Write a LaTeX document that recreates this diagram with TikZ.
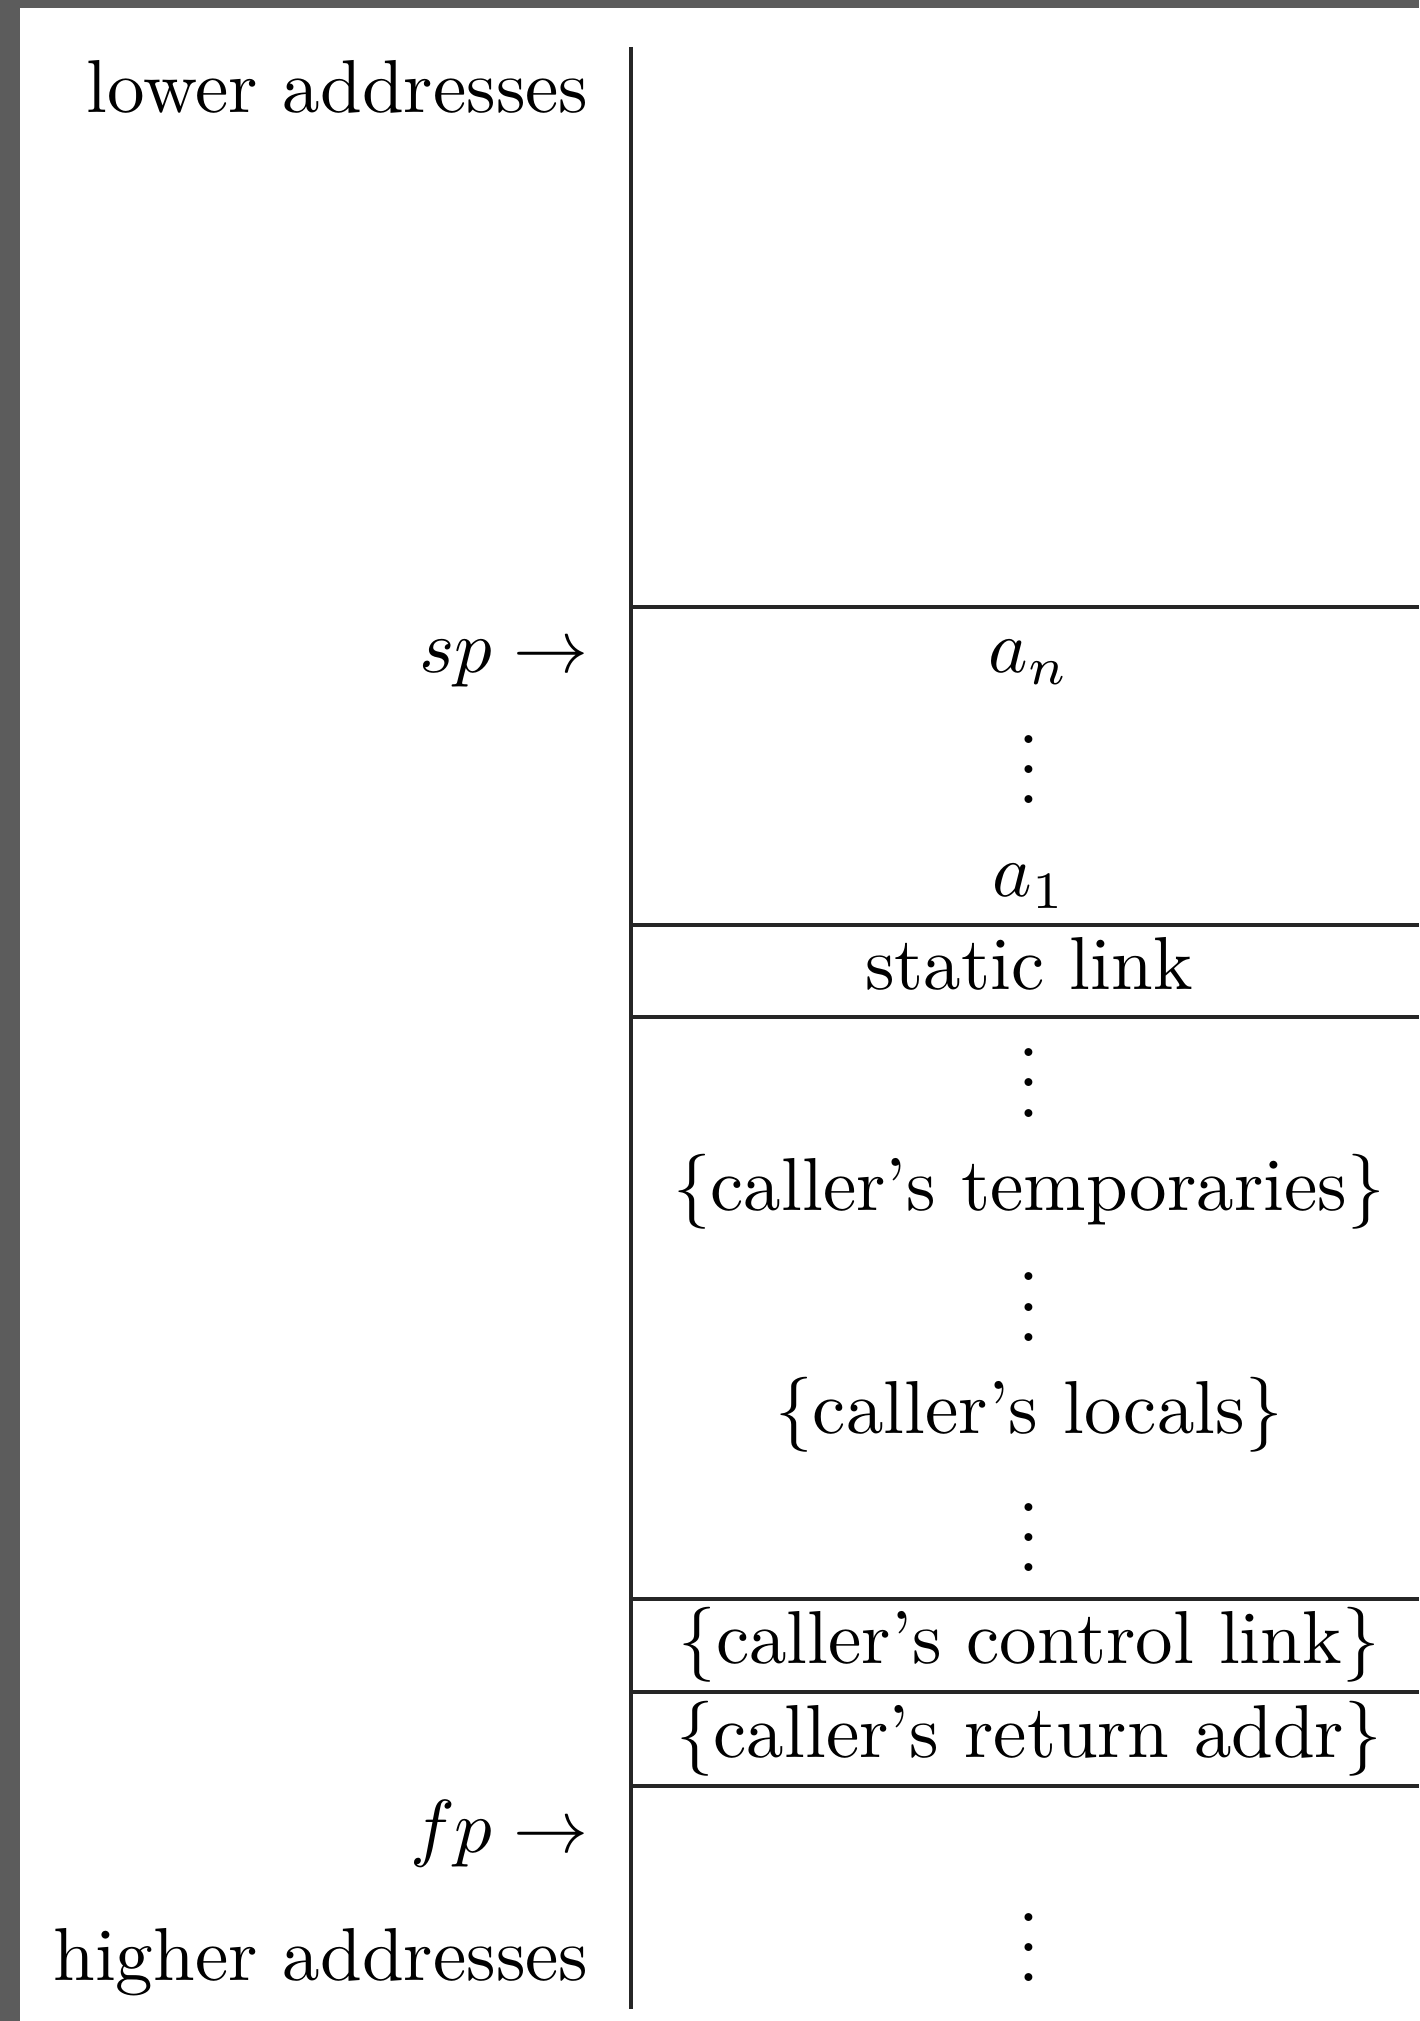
\documentclass[tikz,border=0pt]{standalone}
\usepackage{amsmath}
\begin{document}
\begin{tikzpicture}[x=0.1333pt,y=-0.1333pt,
  lbl/.style={inner sep=0pt,anchor=base east},
  cell/.style={inner sep=0pt,anchor=base},
  rule/.style={line width=0.5pt,draw=black!85},
  spine/.style={line width=0.45pt,draw=black!85}]
  \useasboundingbox (0,0) rectangle (1419,2021);
  % window frame
  \fill[black!64] (0,0) rectangle (1419,8);
  \fill[black!64] (0,0) rectangle (20,2021);

  % stack column: left edge and cell separators
  \coordinate (top) at (631,47);
  \coordinate (bot) at (631,2009);
  \draw[spine] (top) -- (bot);
  \foreach \y/\n in {607/r1,925/r2,1017/r3,1599/r4,1692/r5,1786/r6}{
    \coordinate (\n) at (631,\y);
    \draw[rule] (\n) -- ++(788,0);
  }

  % address labels and pointers
  \node[lbl] (low)  at (590,113)  {lower addresses};
  \node[lbl] (sp)   at (590,673)  {$sp\to$};
  \node[lbl] (fp)   at (590,1852) {$fp\to$};
  \node[lbl] (high) at (590,1980) {higher addresses};

  % cell contents
  \node[cell] (an)   at (1029,673)  {$a_n$};
  \node[cell] (d1)   at (1029,804)  {$\vdots$};
  \node[cell] (a1)   at (1029,897)  {$a_1$};
  \node[cell] (sl)   at (1029,990)  {static link};
  \node[cell] (d2)   at (1029,1117) {$\vdots$};
  \node[cell] (tmp)  at (1029,1210) {\{caller's temporaries\}};
  \node[cell] (d3)   at (1029,1341) {$\vdots$};
  \node[cell] (loc)  at (1029,1433) {\{caller's locals\}};
  \node[cell] (d4)   at (1029,1571) {$\vdots$};
  \node[cell] (cl)   at (1029,1663) {\{caller's control link\}};
  \node[cell] (ra)   at (1029,1757) {\{caller's return addr\}};
  \node[cell] (d5)   at (1029,1981) {$\vdots$};
\end{tikzpicture}
\end{document}
